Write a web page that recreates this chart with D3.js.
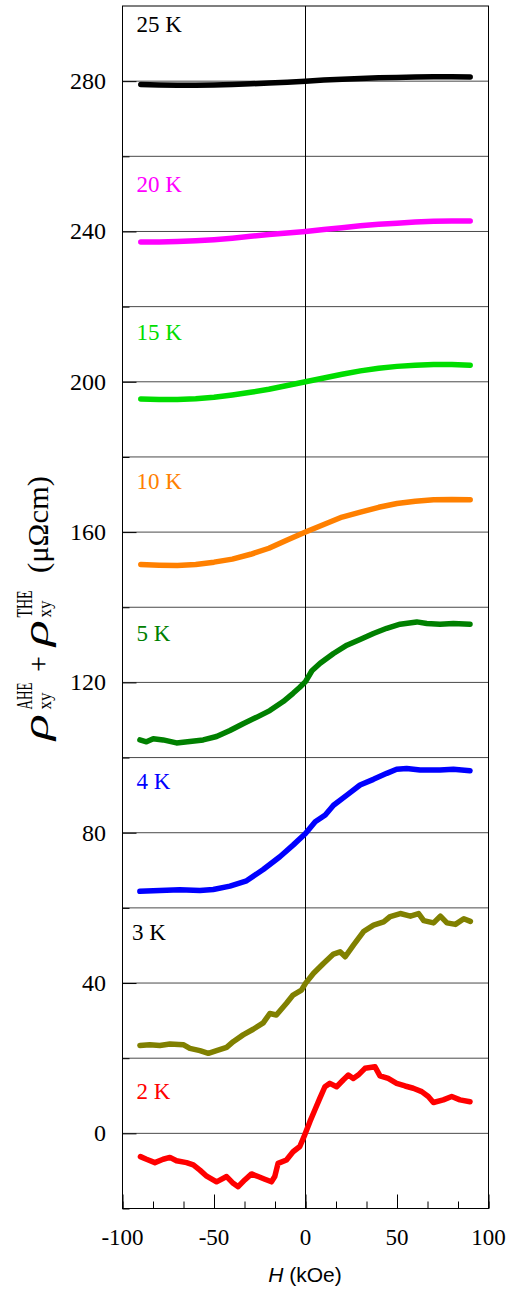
<!DOCTYPE html>
<html><head><meta charset="utf-8">
<script src="https://cdn.jsdelivr.net/npm/d3@7"></script>
<style>html,body{margin:0;padding:0;background:#fff;}svg{display:block;}</style>
</head><body>
<div id="chart"></div>
<script>
// ---------- data ----------
const temps = ["25 K","20 K","15 K","10 K","5 K","4 K","3 K","2 K"];
const lineColors = ["#000000","#ff00ff","#00dd00","#ff8000","#008000","#0000ff","#808000","#ff0000"];
const labelColors = ["#000000","#ff00ff","#00dd00","#ff8000","#008000","#0000ff","#000000","#ff0000"];
// label anchor (data units, baseline)
const labelValues = [293.1, 250.6, 211.1, 171.5, 131.1, 91.6, 51.4, 9.1];

const hSmooth = [-90,-80,-70,-60,-50,-40,-30,-20,-10,0,10,20,30,40,50,60,70,80,90];
const rho25 = [279.1,279.0,278.9,278.9,279.0,279.1,279.3,279.5,279.7,280.0,280.3,280.5,280.7,280.9,281.0,281.1,281.2,281.2,281.1];
const rho20 = [237.2,237.2,237.3,237.5,237.8,238.2,238.7,239.2,239.6,240.0,240.5,241.0,241.5,241.9,242.2,242.5,242.7,242.8,242.8];
const rho15 = [195.4,195.3,195.3,195.5,195.9,196.5,197.2,198.0,199.0,200.0,201.0,202.0,202.9,203.6,204.1,204.4,204.6,204.6,204.4];
const rho10 = [151.4,151.2,151.1,151.4,152.0,152.8,154.1,155.7,157.9,160.0,162.0,164.0,165.3,166.6,167.6,168.2,168.6,168.7,168.6];

const h5 = [-90.5,-86.9,-83.2,-77.8,-70.5,-63.2,-55.9,-48.6,-41.3,-34.1,-26.8,-19.5,-12.2,-6.8,-3.1,0,3.5,8.0,15.3,22.6,29.8,37.1,44.4,51.7,60.8,66.3,73.5,80.8,89.9];
const rho5 = [104.7,104.2,105.0,104.7,103.9,104.3,104.7,105.6,107.2,109.0,110.7,112.5,114.9,117.1,118.7,120.2,123.1,125.1,127.7,129.9,131.4,133.0,134.4,135.5,136.1,135.7,135.5,135.7,135.5];

const h4 = [-90.5,-79.6,-68.7,-57.7,-50.4,-41.3,-32.2,-23.1,-14.0,-6.8,0,5.3,10.8,15.3,22.6,29.8,37.1,44.4,49.8,55.3,62.6,73.5,80.8,89.9];
const rho4 = [64.4,64.6,64.8,64.6,64.9,65.8,67.2,70.2,73.6,76.7,79.8,82.9,84.7,87.3,90.0,92.7,94.2,95.8,96.9,97.1,96.7,96.7,96.9,96.5];

const h3 = [-90.5,-85.1,-79.6,-74.1,-66.8,-63.2,-57.7,-53.1,-48.6,-43.1,-39.5,-34.1,-28.6,-23.1,-19.5,-15.9,-10.4,-6.8,-2.2,0,4.4,9.8,15.3,18.9,21.7,26.2,31.7,37.2,42.7,46.3,51.8,57.3,61.8,64.6,70.0,73.7,77.3,81.9,86.5,90.1];
const rho3 = [23.4,23.6,23.4,23.8,23.6,22.6,22.0,21.3,22.0,22.9,24.4,26.2,27.7,29.4,31.9,31.5,34.6,36.8,38.1,39.9,42.6,45.2,47.7,48.3,47.0,50.1,53.7,55.4,56.3,57.7,58.5,57.8,58.5,56.6,56.0,57.8,56.0,55.6,57.1,56.4];

const h2 = [-90.2,-86.9,-82.3,-77.8,-74.1,-70.5,-65.0,-61.3,-57.7,-54.0,-48.6,-43.1,-39.5,-36.8,-33.2,-29.5,-25.9,-22.2,-18.6,-16.8,-15.0,-10.4,-6.8,-3.1,-0.4,2.4,5.1,7.8,10.6,13.3,17.0,20.6,23.4,26.1,28.8,32.5,38.0,40.7,45.2,49.8,54.4,58.9,63.5,67.1,69.9,75.3,79.9,84.4,89.9];
const rho2 = [-6.2,-6.9,-7.8,-6.9,-6.4,-7.3,-7.8,-8.4,-9.8,-11.4,-12.9,-11.5,-13.3,-14.2,-12.4,-10.8,-11.5,-12.2,-12.9,-11.5,-8.0,-7.1,-4.9,-3.5,-0.4,3.1,6.2,9.3,12.4,13.3,12.4,14.2,15.5,14.6,15.5,17.3,17.7,15.3,14.6,13.3,12.6,12.0,11.1,9.8,8.2,8.9,9.8,8.9,8.4];

const xTickValues = [-100,-50,0,50,100];
const xTickLabels = ["-100","-50","0","50","100"];
const yTickValues = [0,40,80,120,160,200,240,280];
const yTickLabels = ["0","40","80","120","160","200","240","280"];

const seriesH = [hSmooth,hSmooth,hSmooth,hSmooth,h5,h4,h3,h2];
const seriesRho = [rho25,rho20,rho15,rho10,rho5,rho4,rho3,rho2];

// ---------- layout ----------
const W = 508, Ht = 1290;
const L = 122.5, R = 488.5, T = 6, B = 1208.5;
const serif = "'Liberation Serif','Times New Roman',Times,serif";
const sans = "'Liberation Sans',Arial,Helvetica,sans-serif";

const svg = d3.select("#chart").append("svg").attr("width", W).attr("height", Ht);
svg.append("rect").attr("width", W).attr("height", Ht).attr("fill", "#fff");

const x = d3.scaleLinear().domain([-100, 100]).range([L, R]);
const y = d3.scaleLinear().domain([-20, 300]).range([B, T]);

// gridlines every 20
const gridVals = d3.range(0, 300, 20);
svg.append("g").selectAll("line").data(gridVals).join("line")
  .attr("x1", L).attr("x2", R).attr("y1", d => y(d)).attr("y2", d => y(d))
  .attr("stroke", "#4a4a4a").attr("stroke-width", 1);

// vertical zero line
svg.append("line").attr("x1", x(0)).attr("x2", x(0)).attr("y1", T).attr("y2", B)
  .attr("stroke", "#000").attr("stroke-width", 1);

// y axis ticks (inside)
const yMajor = d3.axisLeft(y).tickValues(d3.range(0, 300, 40)).tickSize(-14).tickFormat("");
const yMinor = d3.axisLeft(y).tickValues(d3.range(-20, 300, 40)).tickSize(-7).tickFormat("");
[yMajor, yMinor].forEach(ax => {
  const g = svg.append("g").attr("transform", `translate(${L},0)`).call(ax);
  g.select(".domain").remove();
  g.selectAll("line").attr("stroke", "#000");
});
// x axis ticks (inside)
const xMajor = d3.axisBottom(x).tickValues(xTickValues).tickSize(-14).tickFormat("");
const xMinor = d3.axisBottom(x).tickValues(d3.range(-100, 100.1, 50/3)).tickSize(-7).tickFormat("");
[xMajor, xMinor].forEach(ax => {
  const g = svg.append("g").attr("transform", `translate(0,${B})`).call(ax);
  g.select(".domain").remove();
  g.selectAll("line").attr("stroke", "#000");
});

// frame
svg.append("rect").attr("x", L).attr("y", T).attr("width", R - L).attr("height", B - T)
  .attr("fill", "none").attr("stroke", "#000").attr("stroke-width", 1);

// tick labels
svg.append("g").selectAll("text").data(yTickValues).join("text")
  .attr("x", 106).attr("y", d => y(d) + 8).attr("text-anchor", "end")
  .attr("font-family", serif).attr("font-size", 24).attr("fill", "#000")
  .text((d, i) => yTickLabels[i]);
svg.append("g").selectAll("text").data(xTickValues).join("text")
  .attr("x", d => x(d)).attr("y", 1245).attr("text-anchor", "middle")
  .attr("font-family", serif).attr("font-size", 23).attr("fill", "#000")
  .text((d, i) => xTickLabels[i]);

// curves
const line = d3.line().x(d => x(d[0])).y(d => y(d[1]));
seriesRho.forEach((vals, i) => {
  const pts = seriesH[i].map((h, j) => [h, vals[j]]);
  svg.append("path").datum(pts).attr("d", line)
    .attr("fill", "none").attr("stroke", lineColors[i]).attr("stroke-width", 5.5)
    .attr("stroke-linecap", "round").attr("stroke-linejoin", "round");
});

// temperature labels
svg.append("g").selectAll("text").data(temps).join("text")
  .attr("x", (d, i) => i === 6 ? 132 : 136.5).attr("y", (d, i) => y(labelValues[i]))
  .attr("font-family", serif).attr("font-size", 23)
  .attr("fill", (d, i) => labelColors[i]).text(d => d);

// x axis title
const xt = svg.append("text").attr("x", 305).attr("y", 1282).attr("text-anchor", "middle")
  .attr("font-family", sans).attr("font-size", 21).attr("fill", "#000");
xt.append("tspan").attr("font-style", "italic").text("H");
xt.append("tspan").text(" (kOe)");

// y axis title (rotated, composed piecewise along the text direction)
const yt = svg.append("g").attr("transform", "translate(48,741) rotate(-90)");
function piece(str, px, py, size, len, italic) {
  yt.append("text").attr("x", px).attr("y", py)
    .attr("font-family", serif).attr("font-size", size)
    .attr("font-style", italic ? "italic" : "normal").attr("fill", "#000")
    .attr("textLength", len).attr("lengthAdjust", "spacingAndGlyphs")
    .text(str);
}
piece("ρ", 1, 0, 35, 26, true);
piece("AHE", 31.5, -16, 24, 27, false);
piece("xy", 31.5, 3, 19, 17, false);
piece("+", 69, 0, 30, 16, false);
piece("ρ", 95, 0, 35, 26, true);
piece("THE", 123.5, -16, 24, 27, false);
piece("xy", 123.5, 3, 19, 17, false);
piece("(μΩcm)", 168, 0, 30, 97, false);
</script>
</body></html>
